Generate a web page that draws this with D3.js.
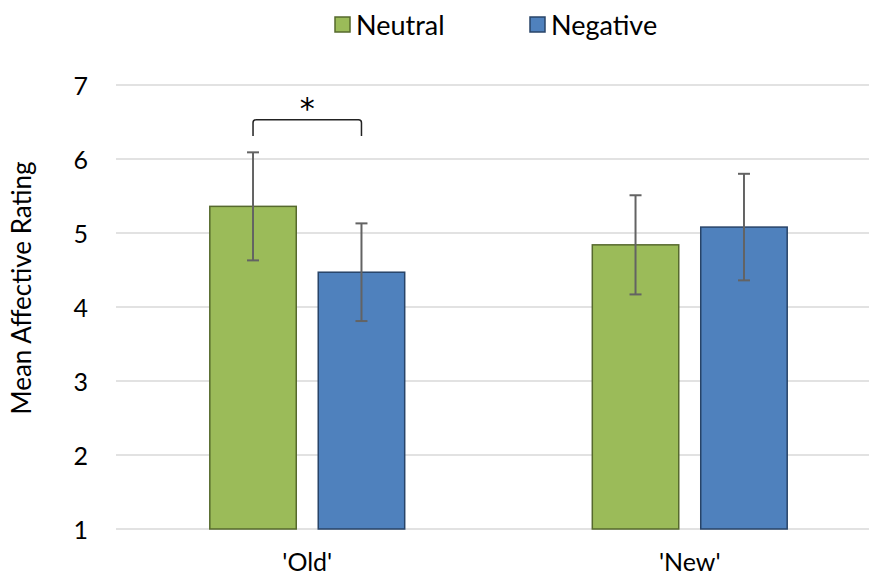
<!DOCTYPE html>
<html>
<head>
<meta charset="utf-8">
<script src="https://cdn.jsdelivr.net/npm/d3@7"></script>
<style>
  html, body { margin: 0; padding: 0; background: #fff; }
  svg text { font-family: Lato, "Open Sans", sans-serif; fill: #000; }
</style>
</head>
<body>
<svg id="chart" width="869" height="580"></svg>
<script>
// Conditions on the x axis and the two stimulus types
const categories = ["'Old'", "'New'"];
const series = ["Neutral", "Negative"];
const neutralMeans = [5.36, 4.84];
const negativeMeans = [4.47, 5.08];
const neutralErr = [0.73, 0.67];
const negativeErr = [0.66, 0.72];
const yTicks = [1, 2, 3, 4, 5, 6, 7];
const colors = { Neutral: "#9BBB59", Negative: "#4F81BD" };
const strokes = { Neutral: "#56692d", Negative: "#284468" };

const rows = categories.map((c, i) => ({
  cat: c,
  bars: [
    { s: "Neutral", v: neutralMeans[i], e: neutralErr[i] },
    { s: "Negative", v: negativeMeans[i], e: negativeErr[i] }
  ]
}));

const svg = d3.select("#chart");

const y = d3.scaleLinear().domain([1, 7]).range([529, 85]);
const x0 = d3.scaleBand().domain(categories).range([116, 881]).padding(0);
const x1 = d3.scaleBand().domain(series).range([0, x0.bandwidth()])
  .paddingInner(0.2028).paddingOuter(0.865);

// Horizontal gridlines
svg.append("g").selectAll("line").data(yTicks).join("line")
  .attr("x1", 116).attr("x2", 881)
  .attr("y1", d => y(d)).attr("y2", d => y(d))
  .attr("stroke", "#d9d9d9").attr("stroke-width", 1.5);

// Y tick labels
const yAxis = d3.axisLeft(y).tickValues(yTicks).tickFormat(d3.format("d"))
  .tickSize(0).tickPadding(0);
const gy = svg.append("g").attr("transform", "translate(88,0)").call(yAxis);
gy.select(".domain").remove();
gy.selectAll("text").attr("font-size", 25).attr("dy", "0.36em")
  .style("font-family", "Lato, sans-serif").attr("fill", "#000");

// X category labels
const xAxis = d3.axisBottom(x0).tickSize(0).tickPadding(0);
const gx = svg.append("g").attr("transform", "translate(0,553)").call(xAxis);
gx.select(".domain").remove();
gx.selectAll("text").attr("font-size", 25).attr("dy", "0.71em")
  .style("font-family", "Lato, sans-serif").attr("fill", "#000");

// Bars
const groups = svg.append("g").selectAll("g").data(rows).join("g")
  .attr("transform", d => `translate(${x0(d.cat)},0)`);

groups.selectAll("rect").data(d => d.bars).join("rect")
  .attr("x", d => x1(d.s))
  .attr("y", d => y(d.v))
  .attr("width", x1.bandwidth())
  .attr("height", d => y(1) - y(d.v))
  .attr("fill", d => colors[d.s])
  .attr("stroke", d => strokes[d.s])
  .attr("stroke-width", 1.5);

// Error bars
const eb = groups.selectAll("g.err").data(d => d.bars).join("g").attr("class", "err");
eb.append("line")
  .attr("x1", d => x1(d.s) + x1.bandwidth() / 2)
  .attr("x2", d => x1(d.s) + x1.bandwidth() / 2)
  .attr("y1", d => y(d.v - d.e)).attr("y2", d => y(d.v + d.e));
eb.append("line")
  .attr("x1", d => x1(d.s) + x1.bandwidth() / 2 - 6)
  .attr("x2", d => x1(d.s) + x1.bandwidth() / 2 + 6)
  .attr("y1", d => y(d.v + d.e)).attr("y2", d => y(d.v + d.e));
eb.append("line")
  .attr("x1", d => x1(d.s) + x1.bandwidth() / 2 - 6)
  .attr("x2", d => x1(d.s) + x1.bandwidth() / 2 + 6)
  .attr("y1", d => y(d.v - d.e)).attr("y2", d => y(d.v - d.e));
eb.selectAll("line").attr("stroke", "#636363").attr("stroke-width", 2);

// Significance bracket over the 'Old' pair
const bx1 = x0(categories[0]) + x1("Neutral") + x1.bandwidth() / 2;
const bx2 = x0(categories[0]) + x1("Negative") + x1.bandwidth() / 2;
const byTop = y(6.53), byLeg = y(6.31), r = 3;
svg.append("path")
  .attr("d", `M${bx1},${byLeg} L${bx1},${byTop + r} Q${bx1},${byTop} ${bx1 + r},${byTop}
              L${bx2 - r},${byTop} Q${bx2},${byTop} ${bx2},${byTop + r} L${bx2},${byLeg}`)
  .attr("fill", "none").attr("stroke", "#222").attr("stroke-width", 1.5);
svg.append("text").attr("x", (bx1 + bx2) / 2).attr("y", 119)
  .attr("text-anchor", "middle").attr("font-size", 30)
  .style("font-family", "'DejaVu Sans', sans-serif").text("*");

// Y axis title
svg.append("text")
  .attr("transform", "translate(31,288) rotate(-90)")
  .attr("text-anchor", "middle").attr("font-size", 26)
  .text("Mean Affective Rating");

// Legend
const legendItems = [{ s: "Neutral", x: 335 }, { s: "Negative", x: 530 }];
const lg = svg.append("g").selectAll("g").data(legendItems).join("g")
  .attr("transform", d => `translate(${d.x},17)`);
lg.append("rect").attr("width", 15).attr("height", 15)
  .attr("fill", d => colors[d.s]).attr("stroke", d => strokes[d.s]).attr("stroke-width", 1.5);
lg.append("text").attr("x", 21).attr("y", 8).attr("dy", "0.36em")
  .attr("font-size", 27).text(d => d.s);
</script>
</body>
</html>
